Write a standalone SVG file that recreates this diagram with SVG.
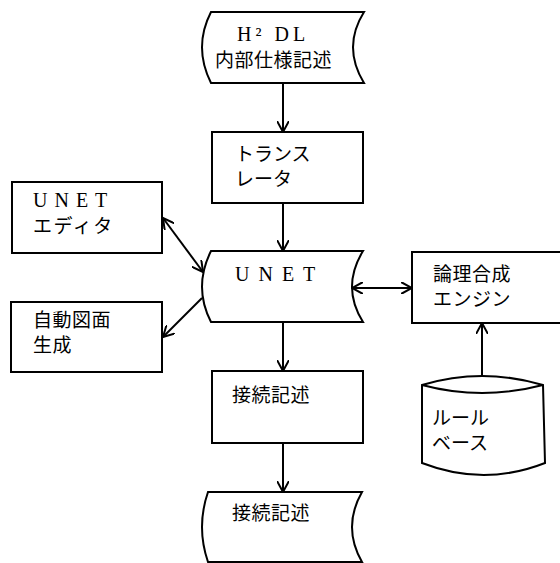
<svg xmlns="http://www.w3.org/2000/svg" width="560" height="563" viewBox="0 0 560 563">
<defs>
<style>
.s{fill:#fff;stroke:#000;stroke-width:2;stroke-linejoin:miter}
.c{stroke:#000;stroke-width:2;fill:none}
.j{font-family:"Noto Sans CJK JP","Noto Sans",sans-serif;font-size:19px;fill:#000}
.l{font-family:"Liberation Serif",serif;font-size:20px;fill:#000}
</style>
<marker id="a" viewBox="0 0 12 12" refX="11" refY="6" markerWidth="12" markerHeight="12" markerUnits="userSpaceOnUse" orient="auto-start-reverse">
<path d="M0,0 L11,6 L0,12" fill="none" stroke="#000" stroke-width="2"/>
</marker>
</defs>
<rect width="560" height="563" fill="#fff"/>
<g id="h2dl">
<path class="s" d="M211,12 L364,12 Q342,47 364,83 L211,83 Q193,47 211,12 Z"/>
<text class="l" x="237" y="41" letter-spacing="4">H² DL</text>
<text class="j" x="215" y="67" letter-spacing="0.5">内部仕様記述</text>
</g>
<g id="translator">
<rect class="s" x="212" y="132" width="151" height="71"/>
<text class="j" x="235" y="161">トランス</text>
<text class="j" x="235" y="186">レータ</text>
</g>
<g id="unet">
<path class="s" d="M211,251 L363,251 Q341,287 363,322 L211,322 Q193,287 211,251 Z"/>
<text class="l" x="235" y="281" letter-spacing="9">UNET</text>
</g>
<g id="editor">
<rect class="s" x="12" y="182" width="150" height="71"/>
<text class="l" x="33" y="207" letter-spacing="7">UNET</text>
<text class="j" x="33" y="233" letter-spacing="1.5">エディタ</text>
</g>
<g id="autodraw">
<rect class="s" x="11" y="302" width="151" height="70"/>
<text class="j" x="33" y="327" letter-spacing="0.5">自動図面</text>
<text class="j" x="33" y="352" letter-spacing="0.5">生成</text>
</g>
<g id="logic">
<rect class="s" x="412" y="252" width="160" height="71"/>
<text class="j" x="433" y="281" letter-spacing="0.5">論理合成</text>
<text class="j" x="433" y="306" letter-spacing="0.5">エンジン</text>
</g>
<g id="rulebase">
<path class="s" d="M422,385 Q482,367 543,385 L545,463 Q484,487 422,463 Z"/>
<path class="c" d="M422,385 Q482,401 543,385"/>
<text class="j" x="432" y="425">ルール</text>
<text class="j" x="432" y="450">ベース</text>
</g>
<g id="conn">
<rect class="s" x="212" y="371" width="151" height="72"/>
<text class="j" x="232" y="402" letter-spacing="0.5">接続記述</text>
</g>
<g id="connout">
<path class="s" d="M208,492 L362,492 Q342,527 362,562 L208,562 Q196,527 208,492 Z"/>
<text class="j" x="232" y="520" letter-spacing="0.5">接続記述</text>
</g>
<g id="connectors">
<line class="c" x1="283" y1="83" x2="283" y2="132" marker-end="url(#a)"/>
<line class="c" x1="283" y1="203" x2="283" y2="251" marker-end="url(#a)"/>
<line class="c" x1="283" y1="322" x2="283" y2="371" marker-end="url(#a)"/>
<line class="c" x1="283" y1="443" x2="283" y2="492" marker-end="url(#a)"/>
<line class="c" x1="163" y1="218" x2="203" y2="272" marker-start="url(#a)" marker-end="url(#a)"/>
<line class="c" x1="202" y1="298" x2="163" y2="337" marker-end="url(#a)"/>
<line class="c" x1="352" y1="288" x2="412" y2="288" marker-start="url(#a)" marker-end="url(#a)"/>
<line class="c" x1="482" y1="377" x2="482" y2="323" marker-end="url(#a)"/>
</g>
</svg>
